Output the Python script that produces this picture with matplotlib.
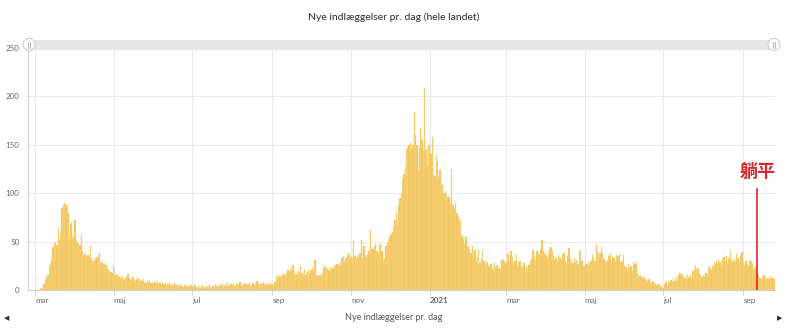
import numpy as np
import pandas as pd
import matplotlib
matplotlib.use('Agg')
import matplotlib.pyplot as plt
from matplotlib import font_manager
from matplotlib.patches import Rectangle, Circle

# pick a narrow sans if there is one
names = {f.name for f in font_manager.fontManager.ttflist}
base_font = 'Liberation Sans Narrow' if 'Liberation Sans Narrow' in names else 'Lato'
plt.rcParams['font.family'] = [base_font, 'DejaVu Sans']

# daily new admissions, one list per month
mar20 = [0, 0, 0, 0, 2, 1, 3, 6, 10, 13, 16, 24, 28, 32, 44, 48, 50, 47, 64, 52, 58, 85, 88, 90, 89, 86, 80, 53, 69, 55, 55]
apr20 = [72, 52, 50, 48, 47, 57, 40, 36, 38, 35, 36, 34, 45, 32, 30, 31, 33, 34, 36, 38, 28, 29, 27, 28, 26, 22, 22, 20, 19, 18]
may20 = [25, 16, 15, 17, 14, 13, 12, 14, 11, 12, 13, 17, 12, 10, 11, 13, 9, 10, 11, 12, 8, 10, 9, 11, 8, 7, 9, 8, 10, 7, 8]
jun20 = [7, 8, 6, 9, 6, 7, 5, 8, 6, 7, 5, 6, 7, 4, 6, 5, 7, 6, 5, 4, 6, 5, 4, 3, 6, 4, 5, 3, 4, 5]
jul20 = [4, 3, 5, 2, 3, 4, 2, 3, 5, 3, 2, 4, 3, 5, 2, 3, 4, 3, 6, 4, 3, 5, 4, 6, 3, 5, 4, 7, 5, 4, 6]
aug20 = [5, 6, 4, 7, 5, 6, 8, 5, 4, 6, 7, 5, 6, 8, 4, 5, 7, 6, 5, 9, 6, 5, 7, 6, 8, 5, 6, 4, 7, 5, 6]
sep20 = [6, 5, 8, 14, 12, 15, 13, 16, 15, 17, 14, 18, 21, 19, 22, 20, 26, 18, 15, 17, 20, 19, 25, 18, 17, 22, 16, 19, 21, 18]
oct20 = [21, 23, 20, 31, 16, 15, 14, 16, 15, 18, 24, 25, 22, 23, 21, 24, 22, 23, 26, 25, 27, 26, 28, 26, 33, 35, 30, 33, 36, 38, 36]
nov20 = [34, 33, 52, 35, 32, 36, 34, 38, 52, 33, 45, 36, 34, 37, 40, 62, 44, 42, 45, 48, 40, 38, 47, 48, 40, 31, 32, 45, 49, 52]
dec20 = [55, 58, 60, 65, 72, 80, 70, 88, 95, 100, 115, 120, 127, 146, 148, 150, 152, 145, 150, 184, 160, 150, 124, 148, 167, 155, 145, 209, 146, 127, 150]
jan21 = [150, 140, 158, 120, 118, 138, 132, 117, 124, 108, 110, 100, 102, 98, 95, 96, 90, 125, 88, 84, 90, 80, 75, 70, 72, 56, 52, 48, 55, 46, 44]
feb21 = [42, 38, 45, 35, 41, 30, 33, 41, 28, 32, 40, 30, 26, 28, 30, 25, 27, 28, 22, 28, 24, 26, 23, 24, 22, 31, 32, 30]
mar21 = [28, 38, 36, 30, 40, 34, 27, 30, 36, 25, 28, 30, 22, 24, 28, 20, 25, 22, 26, 30, 32, 41, 35, 30, 40, 38, 36, 42, 52, 40, 38]
apr21 = [36, 32, 38, 42, 44, 40, 35, 32, 34, 30, 36, 33, 31, 37, 38, 30, 28, 35, 43, 32, 30, 28, 33, 29, 31, 27, 41, 40, 30, 26]
may21 = [25, 27, 28, 26, 29, 30, 36, 33, 30, 48, 40, 35, 38, 44, 38, 32, 30, 29, 31, 35, 38, 30, 34, 33, 30, 36, 35, 37, 28, 30, 36]
jun21 = [26, 24, 22, 27, 21, 25, 20, 29, 27, 29, 18, 16, 14, 15, 12, 13, 11, 10, 9, 11, 8, 7, 9, 7, 6, 5, 6, 4, 5, 3]
jul21 = [2, 6, 8, 5, 9, 7, 10, 8, 11, 9, 13, 10, 16, 18, 15, 17, 12, 14, 11, 15, 13, 16, 12, 20, 22, 26, 21, 23, 18, 15, 13]
aug21 = [16, 14, 18, 15, 24, 25, 22, 26, 24, 28, 30, 27, 31, 29, 26, 32, 34, 30, 35, 28, 33, 40, 31, 30, 32, 29, 37, 33, 30, 35, 39]
sep21 = [28, 26, 30, 27, 25, 31, 30, 28, 22, 24, 20, 17, 16, 12, 11, 12, 15, 13, 11, 12, 11, 14, 12, 12, 11]

admissions = (mar20 + apr20 + may20 + jun20 + jul20 + aug20 + sep20 + oct20 + nov20
              + dec20 + jan21 + feb21 + mar21 + apr21 + may21 + jun21 + jul21 + aug21 + sep21)
dates = pd.date_range('2020-03-01', periods=len(admissions), freq='D')

tick_dates = pd.to_datetime(['2020-03-01', '2020-05-01', '2020-07-01', '2020-09-01', '2020-11-01',
                             '2021-01-01', '2021-03-01', '2021-05-01', '2021-07-01', '2021-09-01'])
tick_labels = ['mar', 'maj', 'jul', 'sep', 'nov', '2021', 'mar', 'maj', 'jul', 'sep']
y_ticks = [0, 50, 100, 150, 200, 250]

marker_date = pd.Timestamp('2021-09-11 16:00')
marker_top = 104
marker_text = '躺平'

title = 'Nye indlæggelser pr. dag (hele landet)'
series_name = 'Nye indlæggelser pr. dag'

W, H = 789, 330
fig = plt.figure(figsize=(W / 100, H / 100), dpi=100)
ax = fig.add_axes([28 / W, 40 / H, (775 - 28) / W, 242 / H])

# thin light edges give the striped look of the original bars
ax.bar(dates, admissions, width=1.0, color='#f3c556', edgecolor='#f8d991', linewidth=0.25, zorder=2)

ax.set_xlim(pd.Timestamp('2020-02-24 14:00'), pd.Timestamp('2021-09-25 14:00'))
ax.set_ylim(0, 250)
ax.set_yticks(y_ticks)
ax.set_xticks(tick_dates)
ax.set_xticklabels(tick_labels)
for lbl in ax.get_xticklabels():
  lbl.set_ha('left')
  if lbl.get_text() == '2021':
    lbl.set_fontweight('bold')
    lbl.set_color('#333333')

ax.grid(True, color='#e9e9e9', lw=0.7, zorder=0)
ax.set_axisbelow(True)
for s in ['top', 'right']:
  ax.spines[s].set_visible(False)
ax.spines['left'].set_color('#d0d0d0')
ax.spines['bottom'].set_color('#cccccc')
ax.spines['left'].set_linewidth(0.8)
ax.spines['bottom'].set_linewidth(0.8)
ax.tick_params(axis='x', length=3.5, width=0.7, color='#cccccc', pad=1.5, labelsize=5.8, labelcolor='#666666')
ax.tick_params(axis='y', length=0, pad=6, labelsize=5.8, labelcolor='#666666')

# red marker
ax.plot([marker_date, marker_date], [0, marker_top], color='#d9272e', lw=1.2, zorder=3)
ax.text(marker_date, 122.5, marker_text, ha='center', va='center', fontsize=13,
        fontweight='bold', color='#d9272e', family=['Noto Sans CJK SC', 'DejaVu Sans'])

# overlay in pixel coords: title, slider, bottom legend
ov = fig.add_axes([0, 0, 1, 1])
ov.set_xlim(0, W)
ov.set_ylim(H, 0)
ov.axis('off')
ov.patch.set_visible(False)

ov.text(394, 17, title, ha='center', va='center', fontsize=7.5, color='#2b2b2b')

ov.add_patch(Rectangle((28, 39.5), 747, 10.5, facecolor='#e6e6e6', edgecolor='none'))
for hx in (29, 774):
  ov.add_patch(Circle((hx, 44.5), 6, facecolor='white', edgecolor='#cfcfcf', lw=0.8, zorder=3))
  ov.plot([hx - 1.2, hx - 1.2], [41.5, 47.5], color='#aaaaaa', lw=0.6, zorder=4)
  ov.plot([hx + 1.2, hx + 1.2], [41.5, 47.5], color='#aaaaaa', lw=0.6, zorder=4)

ov.text(394, 318, series_name, ha='center', va='center', fontsize=6.5, color='#555555')
ov.text(7, 318, '◀', ha='center', va='center', fontsize=5, color='#333333', family=['DejaVu Sans'])
ov.text(780, 318, '▶', ha='center', va='center', fontsize=5, color='#333333', family=['DejaVu Sans'])

fig.savefig('out.png', dpi=100)
plt.close('all')
